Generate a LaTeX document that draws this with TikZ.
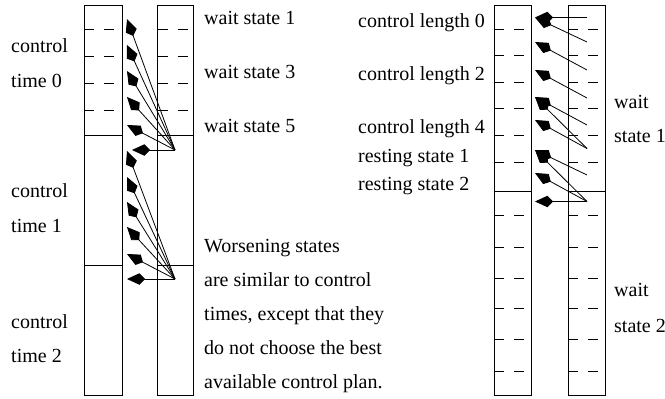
\documentclass[tikz,border=0pt]{standalone}
\usepackage{fontspec}
\setmainfont{Liberation Serif}
\usetikzlibrary{arrows.meta}
\tikzset{
  col/.style={draw, line width=0.8pt},
  rowsep/.style={line width=0.8pt},
  halfrow/.style={line width=0.8pt, dash pattern=on 10pt off 10pt},
  fan/.style={line width=0.8pt, -{Kite[length=18pt,width=11.5pt,inset=5.5pt]}},
  lbl/.style={anchor=base west, inner sep=0pt, font=\fontsize{20}{22}\selectfont},
}
\begin{document}
\begin{tikzpicture}[x=1pt, y=-1pt]
\useasboundingbox (0,0) rectangle (665,399);

% ---------- control times: two columns ----------
\draw[col] (84,5) rectangle (122,395);
\draw[col] (157.5,5) rectangle (193,395);
\foreach \yy in {135,265} {
  \draw[rowsep] (84,\yy) -- (122,\yy);
  \draw[rowsep] (157.5,\yy) -- (193,\yy);
}
\foreach \yy in {29.5,56,83,110} {
  \draw[halfrow] (84,\yy) -- (114,\yy);
  \draw[halfrow] (157.5,\yy) -- (187.5,\yy);
}

% fan from the start of control time 1
\coordinate (a1) at (175,150);
\coordinate (p0) at (127,19);
\coordinate (p1) at (127,45);
\coordinate (p2) at (127,71);
\coordinate (p3) at (127,97);
\coordinate (p4) at (127,125);
\coordinate (p5) at (132,150);
\foreach \t in {p0,p1,p2,p3,p4,p5} \draw[fan] (a1) -- (\t);

% fan from the start of control time 2
\coordinate (a2) at (175,279);
\coordinate (q0) at (127,151);
\coordinate (q1) at (127,177);
\coordinate (q2) at (127,202);
\coordinate (q3) at (127,227);
\coordinate (q4) at (127,254);
\coordinate (q5) at (127,279);
\foreach \t in {q0,q1,q2,q3,q4,q5} \draw[fan] (a2) -- (\t);

\node[lbl] (ct0a) at (11,52) {control};
\node[lbl] (ct0b) at (11,87) {time 0};
\node[lbl] (ct1a) at (11,197) {control};
\node[lbl] (ct1b) at (11,232) {time 1};
\node[lbl] (ct2a) at (11,328) {control};
\node[lbl] (ct2b) at (11,362) {time 2};

\node[lbl] (ws1) at (204,24) {wait state 1};
\node[lbl] (ws3) at (204,78) {wait state 3};
\node[lbl] (ws5) at (204,132) {wait state 5};

\node[lbl] (n1) at (204,252) {Worsening states};
\node[lbl] (n2) at (204,286) {are similar to control};
\node[lbl] (n3) at (204,320) {times, except that they};
\node[lbl] (n4) at (204,354) {do not choose the best};
\node[lbl] (n5) at (204,388) {available control plan.};

% ---------- control lengths: two columns ----------
\draw[col] (494,5) rectangle (531.5,395);
\draw[col] (568,5) rectangle (605.5,395);
\draw[rowsep] (494,191) -- (531.5,191);
\draw[rowsep] (568,191) -- (605.5,191);
\foreach \yy in {29,55,82,108,135,162,215,247,278,308,339,371} {
  \draw[halfrow] (494,\yy) -- (524,\yy);
  \draw[halfrow] (568,\yy) -- (598,\yy);
}

\coordinate (s0) at (587,17.5);
\coordinate (s1) at (587,42);
\coordinate (s2) at (587,70);
\coordinate (s3) at (587,98);
\coordinate (s4) at (587,125);
\coordinate (s5) at (587,148.5);
\coordinate (s6) at (587,175);
\coordinate (s7) at (587,201.5);
\coordinate (t0) at (535,17.5);
\coordinate (t1) at (535,42);
\coordinate (t2) at (535,70);
\coordinate (t3) at (535,97);
\coordinate (t4) at (535,120);
\coordinate (t5) at (535,150);
\coordinate (t6) at (535,173);
\coordinate (t7) at (535,201.5);
\foreach \s/\t in {s0/t0,s1/t0,s2/t1,s3/t2,s4/t3,s5/t3,s5/t4,s6/t5,s7/t5,s7/t6,s7/t7}
  \draw[fan] (\s) -- (\t);

\node[lbl] (cl0) at (358,27) {control length 0};
\node[lbl] (cl2) at (358,80) {control length 2};
\node[lbl] (cl4) at (358,133) {control length 4};
\node[lbl] (rs1) at (358,162) {resting state 1};
\node[lbl] (rs2) at (358,190) {resting state 2};

\node[lbl] (w1a) at (614,108) {wait};
\node[lbl] (w1b) at (614,142) {state 1};
\node[lbl] (w2a) at (614,296) {wait};
\node[lbl] (w2b) at (614,332) {state 2};
\end{tikzpicture}
\end{document}
